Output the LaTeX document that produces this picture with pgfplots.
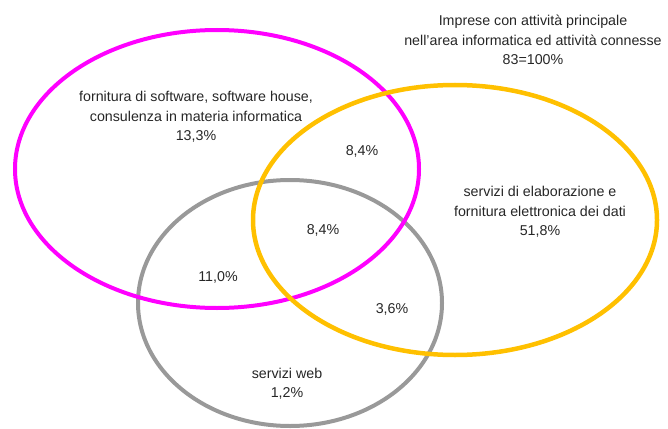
\documentclass[border=0pt]{standalone}
\usepackage{fontspec}
\setmainfont{Liberation Sans}
\usepackage{pgfplots}
\pgfplotsset{compat=1.18}
\definecolor{mag}{RGB}{255,0,255}
\definecolor{gold}{RGB}{255,192,0}
\definecolor{grey}{RGB}{153,153,153}
\begin{document}
\begin{tikzpicture}
\begin{axis}[
  width=668bp, height=429bp, scale only axis,
  xmin=0, xmax=668, ymin=0, ymax=429, y dir=reverse,
  hide axis, clip=false,
]
\path (axis cs:0,0) rectangle (axis cs:668,429);
% ellipses: centre x, centre y, radius x, radius y (pixels)
\draw[grey, line width=4bp] (axis cs:290,303) ellipse [x radius=152, y radius=123];
\draw[mag, line width=4bp] (axis cs:217,169) ellipse [x radius=202, y radius=139];
\draw[gold, line width=4.5bp] (axis cs:455,220) ellipse [x radius=202, y radius=135];
\tikzset{lbl/.style={align=center, font=\fontsize{14.3}{19.5}\selectfont, text=black!85, inner sep=0pt}}
\node[lbl] at (axis cs:533,40) {Imprese con attività principale\\nell'area informatica ed attività connesse\\83=100\%};
\node[lbl] at (axis cs:196,117) {fornitura di software, software house,\\consulenza in materia informatica\\13,3\%};
\node[lbl] at (axis cs:540,212) {servizi di elaborazione e\\fornitura elettronica dei dati\\51,8\%};
\node[lbl] at (axis cs:287,384) {servizi web\\1,2\%};
\node[lbl] at (axis cs:362,151) {8,4\%};
\node[lbl] at (axis cs:323,230) {8,4\%};
\node[lbl] at (axis cs:392,309) {3,6\%};
\node[lbl] at (axis cs:218,277) {11,0\%};
\end{axis}
\end{tikzpicture}
\end{document}
